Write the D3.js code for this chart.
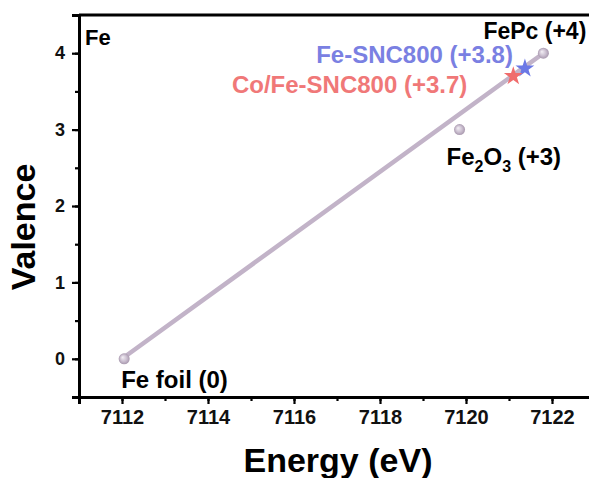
<!DOCTYPE html>
<html>
<head>
<meta charset="utf-8">
<script src="https://cdn.jsdelivr.net/npm/d3@7"></script>
<style>
  body { margin: 0; background: #fff; }
  text { font-family: "Liberation Sans", Arial, sans-serif; font-weight: bold; }
</style>
</head>
<body>
<div id="chart"></div>
<script>
// reference samples (energy in eV, valence)
let refNames = ["Fe foil (0)", "Fe2O3 (+3)", "FePc (+4)"];
let refEnergy = [7112.05, 7119.85, 7121.8];
let refValence = [0, 3, 4];

// samples fitted onto the line
let sampleNames = ["Fe-SNC800 (+3.8)", "Co/Fe-SNC800 (+3.7)"];
let sampleEnergy = [7121.37, 7121.1];
let sampleValence = [3.8, 3.7];
let sampleColors = ["#6b78e6", "#f06c6c"];

// linear fit end points
let fitEnergy = [7112.0, 7121.8];
let fitValence = [0, 4];

let xTicks = [7112, 7114, 7116, 7118, 7120, 7122];
let yTicks = [0, 1, 2, 3, 4];

let width = 589;
let height = 478;

let xScale = d3.scaleLinear().domain([7111, 7123]).range([79, 595]);
let yScale = d3.scaleLinear().domain([-0.5, 4.5]).range([397, 15]);

let svg = d3.select("#chart")
            .append("svg")
            .attr("width", width)
            .attr("height", height);

let defs = svg.append("defs");
let grad = defs.append("radialGradient")
               .attr("id", "ball")
               .attr("cx", "50%").attr("cy", "50%").attr("r", "50%")
               .attr("fx", "35%").attr("fy", "35%");
grad.append("stop").attr("offset", "0%").attr("stop-color", "#f4f0f6");
grad.append("stop").attr("offset", "60%").attr("stop-color", "#cbbfd0");
grad.append("stop").attr("offset", "100%").attr("stop-color", "#a898ae");

// minor ticks
let xMinor = d3.axisBottom(xScale).tickValues(d3.range(7111, 7124, 1)).tickSize(4).tickFormat("");
let yMinor = d3.axisLeft(yScale).tickValues(d3.range(-0.5, 4.51, 0.5)).tickSize(4).tickFormat("");

svg.append("g")
   .attr("transform", "translate(0," + yScale(-0.5) + ")")
   .call(xMinor);
svg.append("g")
   .attr("transform", "translate(" + xScale(7111) + ",0)")
   .call(yMinor);

// major axes
let xAxis = d3.axisBottom(xScale).tickValues(xTicks).tickSize(7).tickPadding(6).tickFormat(d3.format("d"));
let yAxis = d3.axisLeft(yScale).tickValues(yTicks).tickSize(7).tickPadding(7).tickFormat(d3.format("d"));

let gx = svg.append("g")
            .attr("transform", "translate(0," + yScale(-0.5) + ")")
            .call(xAxis);
gx.selectAll("text").style("font-size", "20px").attr("fill", "#111");

let gy = svg.append("g")
            .attr("transform", "translate(" + xScale(7111) + ",0)")
            .call(yAxis);
gy.selectAll("text").style("font-size", "18px").attr("fill", "#111");

svg.selectAll(".domain").attr("stroke", "#000").attr("stroke-width", 3);
svg.selectAll(".tick line").attr("stroke", "#000").attr("stroke-width", 2.2);

// top frame line
svg.append("line")
   .attr("x1", xScale(7111)).attr("x2", xScale(7123))
   .attr("y1", yScale(4.5)).attr("y2", yScale(4.5))
   .attr("stroke", "#000").attr("stroke-width", 3);

// fit line
svg.append("line")
   .attr("x1", xScale(fitEnergy[0])).attr("y1", yScale(fitValence[0]))
   .attr("x2", xScale(fitEnergy[1])).attr("y2", yScale(fitValence[1]))
   .attr("stroke", "#c2b3c8")
   .attr("stroke-width", 4.5)
   .attr("stroke-linecap", "round");

// reference balls
svg.selectAll("circle.ref")
   .data(refEnergy)
   .enter()
   .append("circle")
   .attr("class", "ref")
   .attr("cx", d => xScale(d))
   .attr("cy", (d, i) => yScale(refValence[i]))
   .attr("r", 5.5)
   .attr("fill", "url(#ball)");

// sample stars
let star = d3.symbol().type(d3.symbolStar).size(110);
svg.selectAll("path.star")
   .data(sampleEnergy)
   .enter()
   .append("path")
   .attr("class", "star")
   .attr("d", star)
   .attr("transform", (d, i) => "translate(" + xScale(d) + "," + yScale(sampleValence[i]) + ")")
   .attr("fill", (d, i) => sampleColors[i]);

// labels
svg.append("text")
   .attr("x", xScale(7111) + 6).attr("y", yScale(4.5) + 30)
   .style("font-size", "22px")
   .text("Fe");

svg.append("text")
   .attr("x", xScale(refEnergy[0]) - 3)
   .attr("y", yScale(refValence[0]) + 29)
   .style("font-size", "24px")
   .text(refNames[0]);

let fe2o3 = svg.append("text")
   .attr("x", xScale(refEnergy[1]) - 13)
   .attr("y", yScale(refValence[1]) + 35)
   .style("font-size", "24px");
fe2o3.append("tspan").text("Fe");
fe2o3.append("tspan").attr("dy", 7).style("font-size", "16px").text("2");
fe2o3.append("tspan").attr("dy", -7).text("O");
fe2o3.append("tspan").attr("dy", 7).style("font-size", "16px").text("3");
fe2o3.append("tspan").attr("dy", -7).text(" (+3)");

svg.append("text")
   .attr("x", xScale(refEnergy[2]) - 60)
   .attr("y", yScale(refValence[2]) - 14)
   .style("font-size", "23px")
   .text(refNames[2]);

svg.append("text")
   .attr("x", xScale(sampleEnergy[0]) - 12)
   .attr("y", yScale(sampleValence[0]) - 5)
   .attr("text-anchor", "end")
   .style("font-size", "24px")
   .attr("fill", "#7a80e2")
   .text(sampleNames[0]);

svg.append("text")
   .attr("x", xScale(sampleEnergy[1]) - 46)
   .attr("y", yScale(sampleValence[1]) + 17)
   .attr("text-anchor", "end")
   .style("font-size", "24px")
   .attr("fill", "#f07878")
   .text(sampleNames[1]);

// axis titles
svg.append("text")
   .attr("x", 338)
   .attr("y", 472)
   .attr("text-anchor", "middle")
   .style("font-size", "34px")
   .text("Energy (eV)");

svg.append("text")
   .attr("transform", "translate(35," + (yScale(2) + 21) + ") rotate(-90)")
   .attr("text-anchor", "middle")
   .style("font-size", "34px")
   .text("Valence");
</script>
</body>
</html>
